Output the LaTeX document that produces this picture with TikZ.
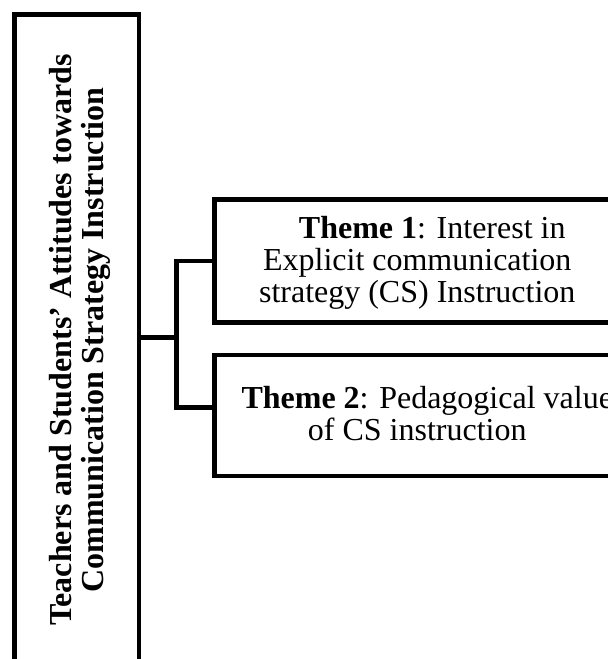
\documentclass[tikz,border=0pt]{standalone}
\usepackage{fontspec}
\setmainfont{Liberation Serif}
\begin{document}
\begin{tikzpicture}[x=1pt,y=-1pt,
  boxline/.style={draw=black,line width=4.8pt,inner sep=0pt,outer sep=0pt,rectangle},
  conn/.style={draw=black,line width=4.8pt,line cap=rect},
  txt/.style={inner sep=0pt,align=center,font=\fontsize{32pt}{32pt}\selectfont}]
\useasboundingbox (0,0) rectangle (608,659);
\fill[white] (0,0) rectangle (608,659);
% left box
\node[boxline,minimum width=124.5pt,minimum height=685.5pt] (main) at (76.75,357.25) {};
\node[txt,rotate=90,anchor=base] (lbl) at (103,340)
  {\textbf{Teachers and Students' Attitudes towards}\\\textbf{Communication Strategy Instruction}};
% theme boxes
\node[boxline,minimum width=405.5pt,minimum height=123pt] (t1) at (417.25,261) {};
\node[boxline,minimum width=405.5pt,minimum height=121pt] (t2) at (417.25,415.5) {};
\node[txt,anchor=base] (t1txt) at (417.25,302)
  {\hspace*{30pt}\textbf{Theme 1}: Interest in\\Explicit communication\\strategy (CS) Instruction};
\node[txt,anchor=base] (t2txt) at (417.25,440)
  {\hspace*{20pt}\textbf{Theme 2}: Pedagogical value\\of CS instruction};
% connectors
\coordinate (j) at (176.5,337.5);
\coordinate (jt) at (176.5,261);
\coordinate (jb) at (176.5,407.5);
\draw[conn] (main.east |- j) -- (j);
\draw[conn] (t1.west |- jt) -- (jt) -- (jb) -- (t2.west |- jb);
\end{tikzpicture}
\end{document}
